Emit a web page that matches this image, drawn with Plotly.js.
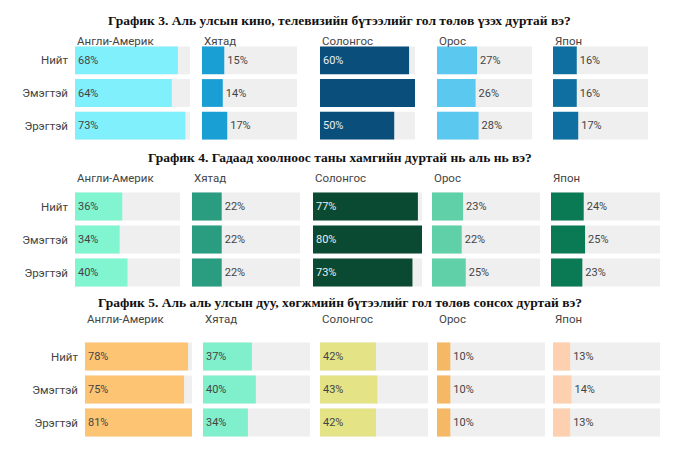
<!DOCTYPE html><html><head><meta charset="utf-8"><script src="https://cdn.plot.ly/plotly-3.0.1.min.js"></script>
<style>body{margin:0}#c{width:679px;height:459px}</style></head><body><div id="c"></div><script>
const groups=["Нийт","Эмэгтэй","Эрэгтэй"];
const countries=["Англи-Америк","Хятад","Солонгос","Орос","Япон"];
const titles=["График 3. Аль улсын кино, телевизийн бүтээлийг гол төлөв үзэх дуртай вэ?","График 4. Гадаад хоолноос таны хамгийн дуртай нь аль нь вэ?","График 5. Аль аль улсын дуу, хөгжмийн бүтээлийг гол төлөв сонсох дуртай вэ?"];
const chart3=[[68,64,73],[15,14,17],[60,67,50],[27,26,28],[16,16,17]];
const chart4=[[36,34,40],[22,22,22],[77,80,73],[23,22,25],[24,25,23]];
const chart5=[[78,75,81],[37,40,34],[42,43,42],[10,10,10],[13,14,13]];
const data=[chart3,chart4,chart5];
const colors=[["#80f0fc","#1a9fd4","#0a4f7c","#5bc8f0","#0e6fa0"],["#80f5d0","#2a9d80","#0b4a32","#5fd0a8","#0a7a55"],["#fdc474","#80f0cc","#e4e487","#f5b865","#fdd0b0"]];
const dark=[[false,false,true,false,true],[false,false,true,false,true],[false,false,false,false,false]];
const panelX=[[[75,190],[202,297],[320,415],[437,532],[553,648]],[[75,180],[192,300],[313,422],[432,540],[551,660]],[[85,192],[203,310],[320,428],[437,545],[553,660]]];
const ranges=[[76,64,64,64,64],[80,80,80,80,80],[81,81,81,81,81]];
const rowY=[[44,142],[190,289],[340,439]];
const titleY=[11,157,302], headY=[32,178,328];
const W=679,H=459;
const traces=[],layout={width:W,height:H,margin:{l:0,r:0,t:0,b:0},barmode:'overlay',showlegend:false,paper_bgcolor:'#fff',plot_bgcolor:'#fff',font:{family:'Roboto, sans-serif',color:'#444',size:11},annotations:[]};
let k=0;
for(let c=0;c<3;c++){
 layout.annotations.push({text:'<b>'+titles[c]+'</b>',x:0.5,y:1-titleY[c]/H,xref:'paper',yref:'paper',showarrow:false,font:{family:'Liberation Serif, serif',size:13.5,color:'#111'}});
 for(let j=0;j<5;j++){
  k++;const xa='x'+(k===1?'':k),ya='y'+(k===1?'':k);
  const vals=data[c][j],R=ranges[c][j];
  traces.push({type:'bar',orientation:'h',x:groups.map(()=>R),y:groups,xaxis:xa,yaxis:ya,marker:{color:'#efefef'},hoverinfo:'skip'});
  traces.push({type:'bar',orientation:'h',x:vals,y:groups,xaxis:xa,yaxis:ya,marker:{color:colors[c][j]},
   text:vals.map(v=>v+'%'),textposition:vals.map(v=>v>=30?'inside':'outside'),insidetextanchor:'start',cliponaxis:false,
   insidetextfont:{color:dark[c][j]?'#e8f0f5':'#444',size:11},outsidetextfont:{color:'#444',size:11}});
  const px=panelX[c][j];
  layout['xaxis'+(k===1?'':k)]={domain:[px[0]/W,px[1]/W],range:[0,R],visible:false,fixedrange:true,anchor:ya};
  layout['yaxis'+(k===1?'':k)]={domain:[1-rowY[c][1]/H,1-rowY[c][0]/H],autorange:'reversed',showticklabels:j===0,ticks:'',showline:false,showgrid:false,zeroline:false,anchor:xa,tickfont:{size:11.5,color:'#444'},ticklabelstandoff:6};
  layout.annotations.push({text:countries[j],x:px[0]/W,y:1-headY[c]/H,xref:'paper',yref:'paper',xanchor:'left',showarrow:false,font:{size:11.5,color:'#444'}});
 }
}
layout.bargap=0.15;
Plotly.newPlot('c',traces,layout,{staticPlot:true});
</script></body></html>
